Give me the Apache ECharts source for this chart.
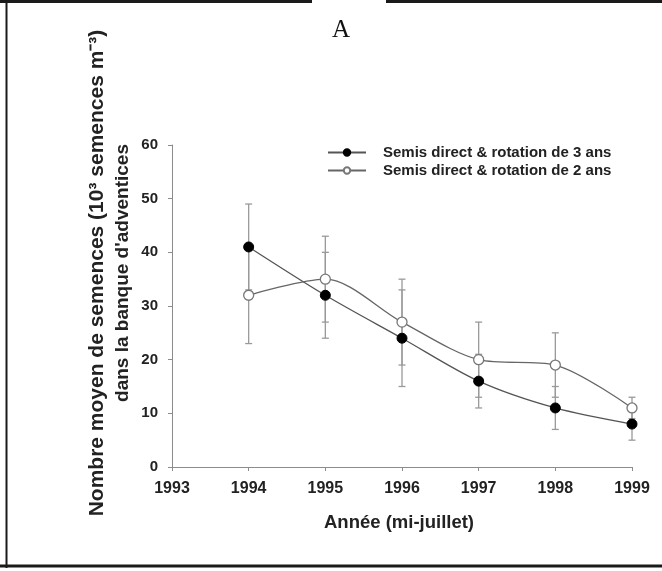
<!DOCTYPE html>
<html>
<head>
<meta charset="utf-8">
<script src="https://cdn.jsdelivr.net/npm/echarts@6/dist/echarts.min.js"></script>
<style>
  html, body { margin: 0; padding: 0; background: #fff; }
  #main { width: 662px; height: 571px; }
</style>
</head>
<body>
<div id="main"></div>
<script>
// années (mi-juillet)
const annees = [1994, 1995, 1996, 1997, 1998, 1999];
// semis direct & rotation de 3 ans
const rot3 = [41, 32, 24, 16, 11, 8];
const err3 = [8, 8, 9, 5, 4, 3];
// semis direct & rotation de 2 ans
const rot2 = [32, 35, 27, 20, 19, 11];
const err2 = [9, 8, 8, 7, 6, 2];

const nom3 = 'Semis direct & rotation de 3 ans';
const nom2 = 'Semis direct & rotation de 2 ans';

const chart = echarts.init(document.getElementById('main'));

// barres d'erreur : [x, bas, haut]
function errData(vals, errs) {
  return annees.map((a, i) => [a, vals[i] - errs[i], vals[i] + errs[i]]);
}
function errRender(params, api) {
  const x = api.value(0);
  const lo = api.coord([x, api.value(1)]);
  const hi = api.coord([x, api.value(2)]);
  const w = 3.5;
  const st = { stroke: '#9a9a9a', lineWidth: 1.3 };
  return {
    type: 'group',
    children: [
      { type: 'line', shape: { x1: lo[0], y1: lo[1], x2: hi[0], y2: hi[1] }, style: st },
      { type: 'line', shape: { x1: lo[0] - w, y1: lo[1], x2: lo[0] + w, y2: lo[1] }, style: st },
      { type: 'line', shape: { x1: hi[0] - w, y1: hi[1], x2: hi[0] + w, y2: hi[1] }, style: st }
    ]
  };
}

const police = '"Liberation Sans", Arial, sans-serif';

chart.setOption({
  animation: false,
  grid: { left: 172, right: 30, top: 145, bottom: 104 },
  legend: {
    orient: 'vertical',
    left: 322,
    top: 140,
    itemWidth: 38,
    itemHeight: 8,
    itemGap: 3,
    data: [nom3, nom2],
    textStyle: { fontFamily: police, fontWeight: 'bold', fontSize: 15, lineHeight: 15, color: '#222', padding: [0, 0, 0, 12] }
  },
  xAxis: {
    type: 'value',
    min: 1993, max: 1999, interval: 1,
    splitLine: { show: false },
    axisLine: { lineStyle: { color: '#8c8c8c' } },
    axisTick: { length: 4, lineStyle: { color: '#8c8c8c' } },
    axisLabel: { margin: 14, fontFamily: police, fontWeight: 'bold', fontSize: 16, color: '#222', formatter: v => String(v) }
  },
  yAxis: {
    type: 'value',
    min: 0, max: 60, interval: 10,
    splitLine: { show: false },
    axisLine: { show: true, lineStyle: { color: '#8c8c8c' } },
    axisTick: { show: true, length: 4, lineStyle: { color: '#8c8c8c' } },
    axisLabel: { margin: 14, fontFamily: police, fontWeight: 'bold', fontSize: 15, color: '#222' }
  },
  graphic: [
    { type: 'text', position: [341, 30], style: { text: 'A', align: 'center', verticalAlign: 'middle', font: '25px "Liberation Serif", "DejaVu Serif", serif', fill: '#111' } },
    { type: 'text', position: [399, 523], style: { text: 'Année (mi-juillet)', align: 'center', verticalAlign: 'middle', font: 'bold 18.5px "Liberation Sans", Arial, sans-serif', fill: '#222' } },
    { type: 'text', position: [97, 273], rotation: Math.PI / 2, style: { text: 'Nombre moyen de semences (10³ semences m⁻³)', align: 'center', verticalAlign: 'middle', font: 'bold 21px "Liberation Sans", Arial, sans-serif', fill: '#222' } },
    { type: 'text', position: [123, 273], rotation: Math.PI / 2, style: { text: "dans la banque d'adventices", align: 'center', verticalAlign: 'middle', font: 'bold 19px "Liberation Sans", Arial, sans-serif', fill: '#222' } },
    // cadre
    { type: 'line', shape: { x1: 0, y1: 1.5, x2: 312, y2: 1.5 }, style: { stroke: '#1a1a1a', lineWidth: 3 } },
    { type: 'line', shape: { x1: 386, y1: 1.5, x2: 662, y2: 1.5 }, style: { stroke: '#1a1a1a', lineWidth: 3 } },
    { type: 'line', shape: { x1: 6.5, y1: 0, x2: 6.5, y2: 568 }, style: { stroke: '#1a1a1a', lineWidth: 2 } },
    { type: 'line', shape: { x1: 0, y1: 566, x2: 662, y2: 566 }, style: { stroke: '#1a1a1a', lineWidth: 3 } }
  ],
  series: [
    { type: 'custom', name: 'err3', data: errData(rot3, err3), renderItem: errRender, z: 1, silent: true },
    { type: 'custom', name: 'err2', data: errData(rot2, err2), renderItem: errRender, z: 1, silent: true },
    {
      name: nom3, type: 'line', smooth: 0.3, z: 3,
      data: annees.map((a, i) => [a, rot3[i]]),
      symbol: 'circle', symbolSize: 10,
      lineStyle: { color: '#555', width: 1.3 },
      itemStyle: { color: '#000', borderColor: '#000', borderWidth: 1 }
    },
    {
      name: nom2, type: 'line', smooth: 0.3, z: 3,
      data: annees.map((a, i) => [a, rot2[i]]),
      symbol: 'circle', symbolSize: 10,
      lineStyle: { color: '#666', width: 1.3 },
      itemStyle: { color: '#fff', borderColor: '#777', borderWidth: 1.3 }
    }
  ]
});
</script>
</body>
</html>
